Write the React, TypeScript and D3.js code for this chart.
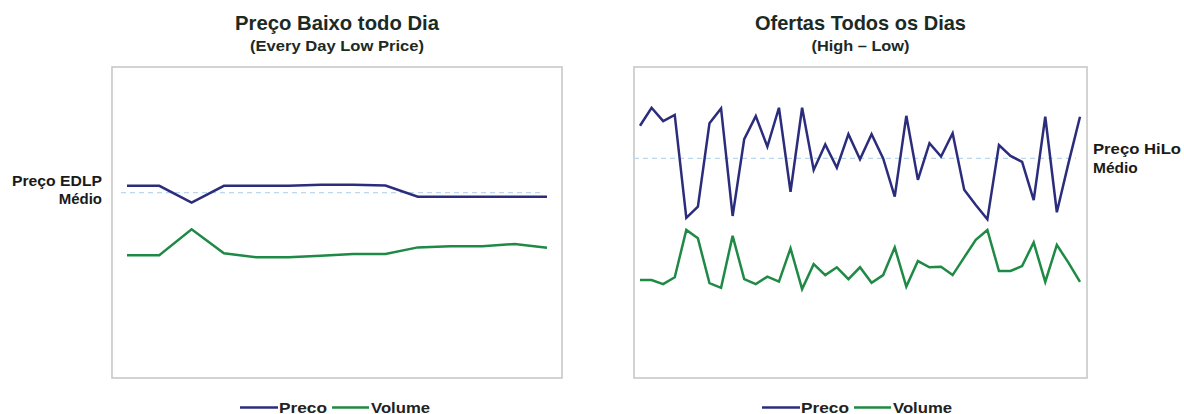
import React from "react";
import * as d3 from "d3";

// Left panel: EDLP (Every Day Low Price), 14 periods
const edlpPrice = [61.8, 61.8, 56.4, 61.8, 61.8, 61.8, 62.1, 62.1, 61.9, 58.3, 58.3, 58.3, 58.3, 58.3];
const edlpVolume = [39.5, 39.5, 47.8, 40.1, 38.8, 38.8, 39.3, 39.9, 39.9, 42.0, 42.4, 42.4, 43.1, 41.9];
const edlpAvgPrice = 59.6;

// Right panel: High–Low promotions, 39 periods
const hiloPrice = [
  81.1, 86.9, 82.6, 84.6, 51.5, 55.1, 81.9, 86.7, 52.1, 76.8, 84.2, 74.4, 86.9, 59.9, 86.9, 66.9,
  75.1, 67.6, 78.4, 70.3, 78.4, 70.6, 58.3, 84.3, 63.7, 75.5, 71.2, 78.7, 60.5, 55.6, 51.0, 74.9,
  71.4, 69.5, 57.2, 84.0, 53.3, 69.0, 84.0,
];
const hiloVolume = [
  31.5, 31.5, 30.2, 32.4, 47.6, 44.9, 30.5, 29.0, 45.7, 31.8, 30.2, 32.6, 31.0, 41.7, 28.6, 36.6,
  33.1, 35.6, 31.8, 35.6, 30.6, 33.1, 42.0, 29.4, 37.6, 35.6, 35.8, 33.1, 38.8, 44.4, 47.6, 34.4,
  34.4, 36.0, 43.6, 30.9, 42.8, 37.1, 30.9,
];
const hiloAvgPrice = 70.6;

const legendLabels = ["Preco", "Volume"];

const W = 1184;
const H = 414;
const FONT = "'Liberation Sans', Arial, Helvetica, sans-serif";
const PRICE_COLOR = "#2B2D7C";
const VOLUME_COLOR = "#1F8A45";
const AVG_COLOR = "#BCD6EC";
const FRAME_COLOR = "#C8C8C8";
const TITLE_COLOR = "#1C2A24";

interface PanelProps {
  left: number;
  right: number;
  top: number;
  bottom: number;
  padL: number;
  padR: number;
  price: number[];
  volume: number[];
  avg: number;
  title: string;
  subtitle: string;
  titleWidth: number;
  subtitleWidth: number;
  legendX: number;
}

function Panel(p: PanelProps) {
  const idx = d3.range(p.price.length);
  const x = d3.scalePoint<number>().domain(idx).range([p.left + p.padL, p.right - p.padR]);
  const y = d3.scaleLinear().domain([0, 100]).range([p.bottom, p.top]);
  const line = d3
    .line<number>()
    .x((_, i) => x(i) as number)
    .y((v) => y(v));
  const cx = (p.left + p.right) / 2;
  const [x0, x1] = x.range();
  const lg = p.legendX;
  return (
    <g>
      <text
        x={cx}
        y={29.5}
        textAnchor="middle"
        fontFamily={FONT}
        fontWeight="bold"
        fontSize={20.5}
        fill={TITLE_COLOR}
        textLength={p.titleWidth}
        lengthAdjust="spacingAndGlyphs"
      >
        {p.title}
      </text>
      <text
        x={cx}
        y={50.5}
        textAnchor="middle"
        fontFamily={FONT}
        fontWeight="bold"
        fontSize={14.5}
        fill={TITLE_COLOR}
        textLength={p.subtitleWidth}
        lengthAdjust="spacingAndGlyphs"
      >
        {p.subtitle}
      </text>
      <rect
        x={p.left}
        y={p.top}
        width={p.right - p.left}
        height={p.bottom - p.top}
        fill="#fff"
        stroke={FRAME_COLOR}
        strokeWidth={1.6}
      />
      <line
        x1={x0 - 6}
        x2={x1 - 4}
        y1={y(p.avg)}
        y2={y(p.avg)}
        stroke={AVG_COLOR}
        strokeWidth={1.3}
        strokeDasharray="5,4"
      />
      <path d={line(p.volume) || ""} fill="none" stroke={VOLUME_COLOR} strokeWidth={2.5} strokeLinejoin="miter" />
      <path d={line(p.price) || ""} fill="none" stroke={PRICE_COLOR} strokeWidth={2.5} strokeLinejoin="miter" />
      {/* legend */}
      <line x1={lg} x2={lg + 38} y1={407.5} y2={407.5} stroke={PRICE_COLOR} strokeWidth={2.5} />
      <text
        x={lg + 39}
        y={412.5}
        fontFamily={FONT}
        fontWeight="bold"
        fontSize={14.5}
        fill="#222"
        textLength={48}
        lengthAdjust="spacingAndGlyphs"
      >
        {legendLabels[0]}
      </text>
      <line x1={lg + 92} x2={lg + 129} y1={407.5} y2={407.5} stroke={VOLUME_COLOR} strokeWidth={2.5} />
      <text
        x={lg + 131}
        y={412.5}
        fontFamily={FONT}
        fontWeight="bold"
        fontSize={14.5}
        fill="#222"
        textLength={59}
        lengthAdjust="spacingAndGlyphs"
      >
        {legendLabels[1]}
      </text>
    </g>
  );
}

export default function App() {
  return (
    <svg
      width={W}
      height={H}
      viewBox={`0 0 ${W} ${H}`}
      style={{ position: "absolute", left: 0, top: 0, background: "#fff" }}
    >
      <rect width={W} height={H} fill="#fff" />
      <Panel
        left={112}
        right={562}
        top={67}
        bottom={378}
        padL={15}
        padR={15}
        price={edlpPrice}
        volume={edlpVolume}
        avg={edlpAvgPrice}
        title="Preço Baixo todo Dia"
        subtitle="(Every Day Low Price)"
        titleWidth={204}
        subtitleWidth={174}
        legendX={240}
      />
      <Panel
        left={634}
        right={1087}
        top={67}
        bottom={378}
        padL={6}
        padR={7}
        price={hiloPrice}
        volume={hiloVolume}
        avg={hiloAvgPrice}
        title="Ofertas Todos os Dias"
        subtitle="(High – Low)"
        titleWidth={211}
        subtitleWidth={98}
        legendX={762}
      />
      <g fontFamily={FONT} fontWeight="bold" fill="#1a1a1a" lengthAdjust="spacingAndGlyphs">
        <text x={102} y={186} textAnchor="end" fontSize={15} textLength={90} lengthAdjust="spacingAndGlyphs">
          Preço EDLP
        </text>
        <text x={102} y={204} textAnchor="end" fontSize={15}>
          Médio
        </text>
        <text x={1093} y={154} fontSize={15.5} textLength={88} lengthAdjust="spacingAndGlyphs">
          Preço HiLo
        </text>
        <text x={1093} y={173} fontSize={15.5}>
          Médio
        </text>
      </g>
    </svg>
  );
}
